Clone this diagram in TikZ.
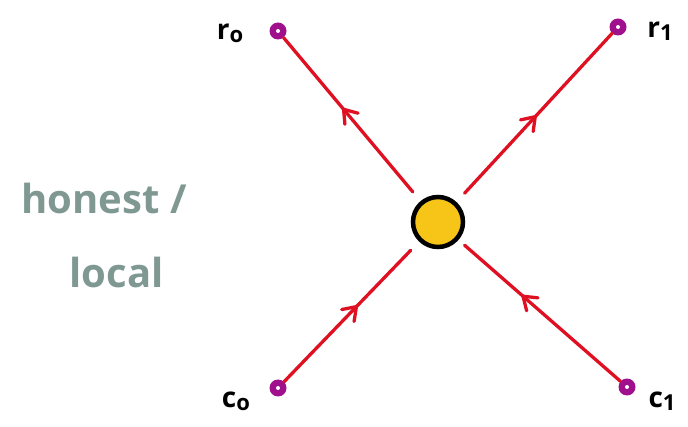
\documentclass[tikz,border=0pt]{standalone}
\usepackage{fontspec}
\setsansfont{Open Sans}
\usetikzlibrary{calc}
\definecolor{hred}{RGB}{222,16,34}
\definecolor{hpurple}{RGB}{160,16,140}
\definecolor{hyellow}{RGB}{247,197,24}
\definecolor{hgray}{RGB}{127,152,146}
\begin{document}
\begin{tikzpicture}[x=1pt,y=-1pt,
  wire/.style={draw=hred,line width=3.3pt,line cap=round},
  wing/.style={draw=hred,line width=3.3pt,line cap=round,line join=round},
  terminal/.style={circle,fill=hpurple,minimum size=17pt,inner sep=0pt},
  hub/.style={circle,fill=hyellow,draw=black,line width=4.5pt,minimum size=50pt,inner sep=0pt},
  lbl/.style={font=\sffamily\bfseries\fontsize{28}{28}\selectfont,text=black},
  note/.style={font=\sffamily\bfseries\fontsize{40}{44}\selectfont,text=hgray,align=left}]
\useasboundingbox (0,0) rectangle (688,427);
\node[hub] (h) at (438,222) {};
\node[terminal] (r0) at (278,31) {};
\node[terminal] (r1) at (618,27) {};
\node[terminal] (c0) at (278,388) {};
\node[terminal] (c1) at (627,387) {};
\foreach \n in {r0,r1,c0,c1} \fill[white] (\n) circle (2pt);
\draw[wire,shorten <=12pt] (h) -- (r0);
\draw[wire,shorten <=12pt] (h) -- (r1);
\draw[wire,shorten >=12pt] (c0) -- (h);
\draw[wire,shorten >=8pt] (c1) -- (h);
\coordinate (t0) at ($(h)!0.59!(r0)$);
\coordinate (t1) at ($(h)!0.54!(r1)$);
\coordinate (t2) at ($(c0)!0.49!(h)$);
\coordinate (t3) at ($(c1)!0.55!(h)$);
\draw[wing] ($(t0)!15pt!145:(r0)$) -- (t0) -- ($(t0)!15pt!-145:(r0)$);
\draw[wing] ($(t1)!15pt!145:(r1)$) -- (t1) -- ($(t1)!15pt!-145:(r1)$);
\draw[wing] ($(t2)!15pt!145:(h)$) -- (t2) -- ($(t2)!15pt!-145:(h)$);
\draw[wing] ($(t3)!15pt!145:(h)$) -- (t3) -- ($(t3)!15pt!-145:(h)$);
\node[lbl] (lr0) at (230,33) {r\raisebox{-3pt}{\fontsize{22}{22}\selectfont o}};
\node[lbl] (lr1) at (660,31) {r\raisebox{-3pt}{\fontsize{22}{22}\selectfont 1}};
\node[lbl] (lc0) at (236,401) {c\raisebox{-3pt}{\fontsize{22}{22}\selectfont o}};
\node[lbl] (lc1) at (662,401) {c\raisebox{-3pt}{\fontsize{22}{22}\selectfont 1}};
\node[note,anchor=base west] (n1) at (18,214) {honest /};
\node[note,anchor=base west] (n2) at (66,288) {local};
\end{tikzpicture}
\end{document}
